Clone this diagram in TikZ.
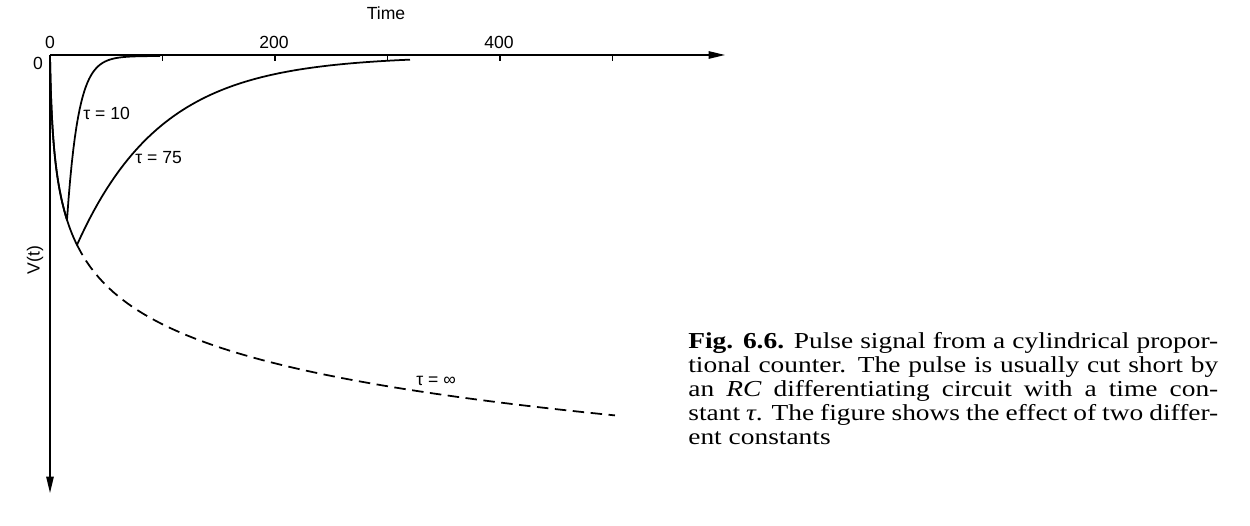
\documentclass[tikz,border=0pt]{standalone}
\usepackage{fontspec}
\setmainfont{Liberation Serif}
\newfontfamily\capfont[FakeStretch=1.2]{Liberation Serif}
\newfontfamily\axfont{Liberation Sans}
\usepackage{tikz}
\usetikzlibrary{arrows.meta}
\usetikzlibrary{positioning}
\tikzstyle{lbl}=[font=\axfont\fontsize{10}{12}\selectfont, inner sep=0pt]
\tikzstyle{curve}=[line width=1pt, line join=round]
\tikzstyle{axis}=[line width=0.8pt, -{Triangle[length=0.33cm,width=0.15cm]}]
\def\Vinf#1{56+56.7*ln(1+#1)}

\begin{document}
\begin{tikzpicture}[x=0.02cm, y=-0.02cm]
    \useasboundingbox (0,0) rectangle (1250,526);
    \coordinate (O) at (50,55);
    \coordinate (X) at (725,55);
    \coordinate (Y) at (50,493);

    \draw [axis] (O) -- (X);
    \draw [axis] (O) -- (Y);
    \foreach \t in {1,...,5}
        \draw [line width=0.8pt] (50+112.5*\t,55) -- ++(0,6);

    \node [lbl] (T)    at (386,13) {Time};
    \node [lbl] (x0)   at (50,42)  {0};
    \node [lbl] (x200) at (274,42) {200};
    \node [lbl] (x400) at (499,42) {400};
    \node [lbl] (y0)   at (38,63)  {0};
    \node [lbl, rotate=90] (V) at (35,260) {V(t)};

    % tau = 10 and tau = 75
    \draw [curve] plot [domain=0:17, samples=80] ({50+\x},{\Vinf{\x}})
        -- plot [domain=17:110, samples=60] ({50+\x},{56+163.9*exp(-(\x-17)/11.25)});
    \draw [curve] plot [domain=0:27, samples=100] ({50+\x},{\Vinf{\x}})
        -- plot [domain=27:360, samples=80] ({50+\x},{56+188.9*exp(-(\x-27)/84.4)});
    % tau = infinity
    \draw [curve, dash pattern=on 0.23cm off 0.13cm] plot [domain=27:565, samples=120] ({50+\x},{\Vinf{\x}});

    \node [lbl, anchor=west] (t10)  at (83,113)  {τ = 10};
    \node [lbl, anchor=west] (t75)  at (135,158) {τ = 75};
    \node [lbl, anchor=west] (tinf) at (416,381) {τ = ∞};

    \node [anchor=base west, inner sep=0pt, text width=10.6cm, align=justify,
           font=\capfont\fontsize{13}{13.66}\selectfont] (cap) at (688,349) {\tolerance=9999
        \textbf{Fig. 6.6.} Pulse signal from a cylindrical propor-\linebreak
        tional counter. The pulse is usually cut short by\linebreak
        an \textit{RC} differentiating circuit with a time con-\linebreak
        stant \textit{τ}. The figure shows the effect of two differ-\linebreak
        ent constants};
\end{tikzpicture}
\end{document}
